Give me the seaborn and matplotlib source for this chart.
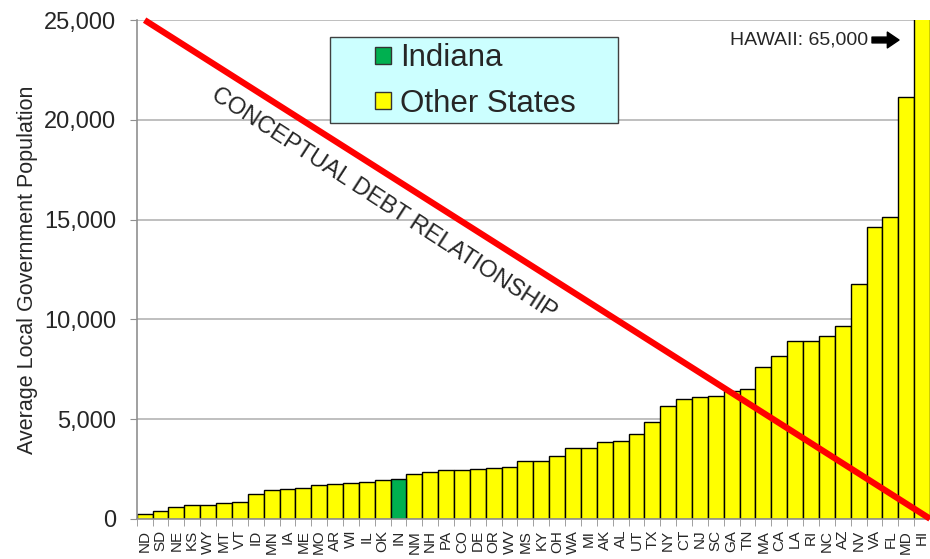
import numpy as np
import pandas as pd
import matplotlib
matplotlib.use("Agg")
import matplotlib.pyplot as plt
import seaborn as sns
from matplotlib.patches import Patch, Rectangle
from matplotlib.ticker import FuncFormatter, FixedLocator

states = ["ND", "SD", "NE", "KS", "WY", "MT", "VT", "ID", "MN", "IA",
          "ME", "MO", "AR", "WI", "IL", "OK", "IN", "NM", "NH", "PA",
          "CO", "DE", "OR", "WV", "MS", "KY", "OH", "WA", "MI", "AK",
          "AL", "UT", "TX", "NY", "CT", "NJ", "SC", "GA", "TN", "MA",
          "CA", "LA", "RI", "NC", "AZ", "NV", "VA", "FL", "MD", "HI"]
avg_population = [220, 400, 580, 700, 700, 800, 830, 1230, 1450, 1500,
                  1550, 1670, 1750, 1800, 1830, 1950, 2000, 2240, 2320, 2440,
                  2460, 2480, 2520, 2610, 2890, 2900, 3130, 3540, 3560, 3860,
                  3910, 4260, 4870, 5640, 5980, 6080, 6140, 6390, 6510, 7620,
                  8160, 8930, 8930, 9180, 9680, 11790, 14640, 15120, 21150, 65000]
highlight = "IN"
# conceptual line: from the first bar at 25,000 down to 0 at the right edge
line_x = [0, 49.5]
line_y = [25000, 0]

sns.set_style("white")
plt.rcParams["font.family"] = ["Liberation Sans", "DejaVu Sans"]

df = pd.DataFrame({"state": states, "pop": avg_population})
df["group"] = np.where(df["state"] == highlight, "Indiana", "Other States")
palette = {"Indiana": "#00b050", "Other States": "#ffff00"}

fig = plt.figure(figsize=(9.3, 5.59), dpi=100)
ax = fig.add_axes([0.147, 0.072, 0.853, 0.892])

sns.barplot(data=df, x="state", y="pop", hue="group", palette=palette,
            dodge=False, width=1.0, edgecolor="black", linewidth=1.0,
            saturation=1, legend=False, ax=ax, zorder=2)

ax.set_xlim(-0.5, len(states) - 0.5)
ax.set_ylim(0, 25000)
ax.set_yticks(np.arange(0, 25001, 5000))
ax.yaxis.set_major_formatter(FuncFormatter(lambda v, p: f"{int(v):,}"))
ax.grid(axis="y", color="#b4b4b4", linewidth=1.2, zorder=0)
ax.set_axisbelow(True)
for s in ["top", "right"]:
    ax.spines[s].set_visible(False)
for s in ["left", "bottom"]:
    ax.spines[s].set_color("#909090")
    ax.spines[s].set_linewidth(1.2)

ax.tick_params(axis="y", labelsize=17, length=5, color="#909090",
               left=True, direction="out", pad=10)
ax.tick_params(axis="x", which="major", labelsize=11, rotation=90,
               length=0, pad=8)
ax.xaxis.set_minor_locator(FixedLocator(np.arange(-0.5, len(states), 1.0)))
ax.tick_params(axis="x", which="minor", length=5, color="#909090",
               bottom=True, direction="out")
ax.set_xlabel("")
ax.set_ylabel("Average Local Government Population", fontsize=15.5, labelpad=4)

# conceptual trend line
ax.plot(line_x, line_y, color="#ff0000", linewidth=4.5,
        solid_capstyle="butt", zorder=3, clip_on=False)
ax.text(15.1, 15800, "CONCEPTUAL DEBT RELATIONSHIP", rotation=-33,
        rotation_mode="anchor", ha="center", va="center", fontsize=17,
        zorder=4)

fig.text(868 / 930, 1 - 40 / 559, "HAWAII: 65,000", ha="right", va="center",
         fontsize=14, zorder=4)
ax.annotate("", xy=(899 / 930, 1 - 40 / 559), xytext=(872 / 930, 1 - 40 / 559),
            xycoords="figure fraction", textcoords="figure fraction",
            arrowprops=dict(arrowstyle="simple,head_length=0.7,head_width=0.95,tail_width=0.35",
                            mutation_scale=12, color="black", shrinkA=0, shrinkB=0),
            zorder=4)

# legend box drawn separately (wide left padding as in the original)
ax.add_patch(Rectangle((330 / 930, 1 - 123 / 559), 288 / 930, 86 / 559,
                       transform=fig.transFigure, facecolor="#ccffff",
                       edgecolor="#404040", linewidth=1.0, clip_on=False,
                       zorder=5))
handles = [Patch(facecolor=palette["Indiana"], edgecolor="#333333", label="Indiana"),
           Patch(facecolor=palette["Other States"], edgecolor="#333333", label="Other States")]
leg = ax.legend(handles=handles, loc="center left",
                bbox_to_anchor=(375 / 930, 1 - 81 / 559),
                bbox_transform=fig.transFigure, fontsize=22.5, frameon=False,
                handlelength=0.5, handleheight=0.5, handletextpad=0.3,
                borderpad=0, labelspacing=0.48, borderaxespad=0)
leg.set_zorder(6)

fig.savefig("out.png", dpi=100)
